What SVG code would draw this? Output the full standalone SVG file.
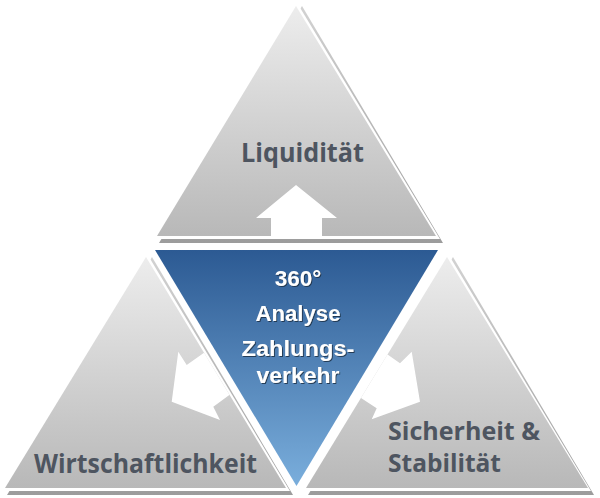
<svg xmlns="http://www.w3.org/2000/svg" width="600" height="498" viewBox="0 0 600 498">
  <style>
    .tri { fill: url(#grayGrad); }
    .gap { fill: #ffffff; }
    .shadow { fill: url(#shadowGrad); }
    .arrow { fill: #ffffff; }
    .lbl { font-family: "Open Sans", "Noto Sans", "DejaVu Sans", sans-serif; font-weight: bold; font-size: 27px; fill: #4e5560; }
    .lbl2 { font-size: 25.5px; }
    .ctr { font-family: "Liberation Sans", Arial, sans-serif; font-weight: bold; font-size: 22.5px; fill: #ffffff; text-anchor: middle; filter: url(#txtShadow); }
  </style>
  <defs>
    <linearGradient id="grayGrad" x1="0" y1="0" x2="0" y2="1">
      <stop offset="0" stop-color="#ededed"/>
      <stop offset="1" stop-color="#b8b8b8"/>
    </linearGradient>
    <linearGradient id="shadowGrad" x1="0" y1="0" x2="0" y2="1">
      <stop offset="0" stop-color="#d2d2d2"/>
      <stop offset="1" stop-color="#9c9c9c"/>
    </linearGradient>
    <linearGradient id="blueGrad" x1="0" y1="0" x2="0" y2="1">
      <stop offset="0" stop-color="#2c5a93"/>
      <stop offset="1" stop-color="#7aaedc"/>
    </linearGradient>
    <filter id="txtShadow" x="-10%" y="-20%" width="130%" height="150%">
      <feDropShadow dx="1" dy="1" stdDeviation="0.6" flood-color="#1a2a40" flood-opacity="0.8"/>
    </filter>
    <clipPath id="clipTop"><polygon points="296,6 436,236 157,236"/></clipPath>
    <clipPath id="clipLeft"><polygon points="146,257 286,488 5,488"/></clipPath>
    <clipPath id="clipRight"><polygon points="447,257 588,488 306,488"/></clipPath>
  </defs>

  <g id="node-top">
    <polygon class="shadow" points="302,6 443,243 159,243"/>
    <polygon class="gap" points="299,6 440,239 157,239"/>
    <polygon class="tri" points="296,6 436,236 157,236"/>
    <text class="lbl" x="241" y="162" textLength="123" lengthAdjust="spacingAndGlyphs">Liquidität</text>
  </g>

  <g id="node-left">
    <polygon class="shadow" points="152,257 293,495 7,495"/>
    <polygon class="gap" points="149,257 290,491 5,491"/>
    <polygon class="tri" points="146,257 286,488 5,488"/>
    <text class="lbl" x="34" y="473" textLength="223" lengthAdjust="spacingAndGlyphs">Wirtschaftlichkeit</text>
  </g>

  <g id="node-right">
    <polygon class="shadow" points="453,257 594,495 308,495"/>
    <polygon class="gap" points="450,257 591,491 306,491"/>
    <polygon class="tri" points="447,257 588,488 306,488"/>
    <text class="lbl lbl2" x="388" y="440" textLength="152" lengthAdjust="spacingAndGlyphs">Sicherheit &amp;</text>
    <text class="lbl lbl2" x="388" y="472" textLength="113" lengthAdjust="spacingAndGlyphs">Stabilität</text>
  </g>

  <g id="node-center">
    <polygon fill="url(#blueGrad)" points="155,250 438,250 296.5,486"/>
    <text class="ctr" x="298" y="286">360°</text>
    <text class="ctr" x="298" y="320.5" textLength="85" lengthAdjust="spacingAndGlyphs">Analyse</text>
    <text class="ctr" x="298" y="355.5" textLength="113" lengthAdjust="spacingAndGlyphs">Zahlungs-</text>
    <text class="ctr" x="298" y="383" textLength="83" lengthAdjust="spacingAndGlyphs">verkehr</text>
  </g>

  <g id="connectors">
    <polygon class="arrow" clip-path="url(#clipTop)" points="296,185 337,218 322,218 322,240 271,240 271,218 256,218"/>
    <polygon class="arrow" clip-path="url(#clipLeft)" points="171.7,401.7 178.3,351.7 186.7,365 220,341.5 245,383.5 213.3,406.7 220,420"/>
    <polygon class="arrow" clip-path="url(#clipRight)" points="420,401.7 371.7,419.3 376.7,408.3 348,389.5 379,348.5 400,363.3 411.7,351.7"/>
  </g>
</svg>
